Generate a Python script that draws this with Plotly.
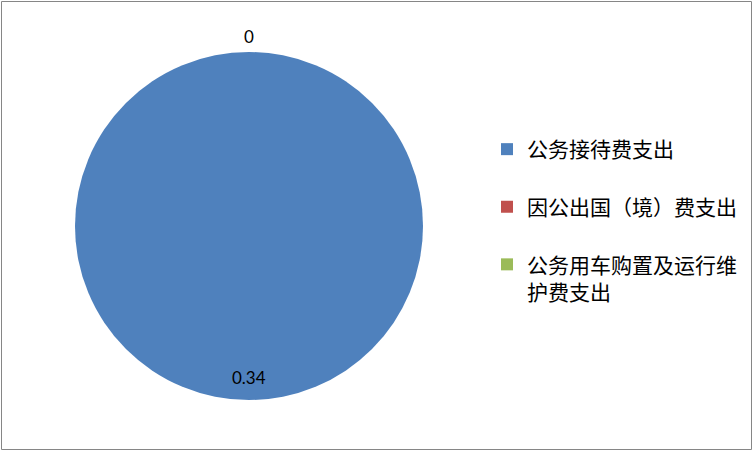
import math
import plotly.graph_objects as go

categories = ["公务接待费支出", "因公出国（境）费支出", "公务用车购置及运行维护费支出"]
legend_labels = ["公务接待费支出<br>&nbsp;", "因公出国（境）费支出<br>&nbsp;", "公务用车购置及运行维<br>护费支出"]
values = [0.34, 0, 0]
colors = ["#4F81BD", "#C0504D", "#9BBB59"]

W, H = 753, 451
cx, cy, R = 249, 226, 174

fig = go.Figure(go.Pie(
    labels=legend_labels,
    values=values,
    marker=dict(colors=colors, line=dict(width=0)),
    sort=False,
    direction="clockwise",
    rotation=0,
    textinfo="none",
    hoverinfo="label+value",
    domain=dict(x=[(cx - R) / W, (cx + R) / W], y=[(H - cy - R) / H, (H - cy + R) / H]),
    showlegend=True,
))

# data labels positioned at each slice's mid-angle
total = sum(values)
cum = 0.0
shown = set()
annotations = []
for v in values:
    mid = (cum + v / 2) / total
    cum += v
    ang = 2 * math.pi * mid
    r = R * 0.87 if v > 0 else R * 1.09
    x = cx + r * math.sin(ang)
    y = cy - r * math.cos(ang)
    key = (round(x), round(y))
    if key in shown:
        continue
    shown.add(key)
    txt = f"{v:g}"
    annotations.append(dict(
        x=x / W, y=1 - y / H, xref="paper", yref="paper", text=txt, showarrow=False,
        font=dict(family="Lato, Open Sans, sans-serif", size=17, color="#000000"),
        xanchor="center", yanchor="middle"))

fig.update_layout(
    width=W, height=H,
    margin=dict(l=0, r=0, t=0, b=0),
    paper_bgcolor="white",
    plot_bgcolor="white",
    annotations=annotations,
    legend=dict(
        x=487 / W, y=1 - 129 / H, xanchor="left", yanchor="top",
        font=dict(family="Noto Sans CJK SC", size=21, color="#000000"),
        valign="top", itemsizing="constant", itemwidth=30,
    ),
    shapes=[dict(type="rect", xref="paper", yref="paper", x0=1.5 / W, y0=1.5 / H, x1=1 - 1.5 / W, y1=1 - 1.5 / H,
                 line=dict(color="#868686", width=1))],
)

fig.write_html("out.html", config={"displayModeBar": False},
               post_script="document.body.style.margin='0';document.body.style.overflow='hidden';")
